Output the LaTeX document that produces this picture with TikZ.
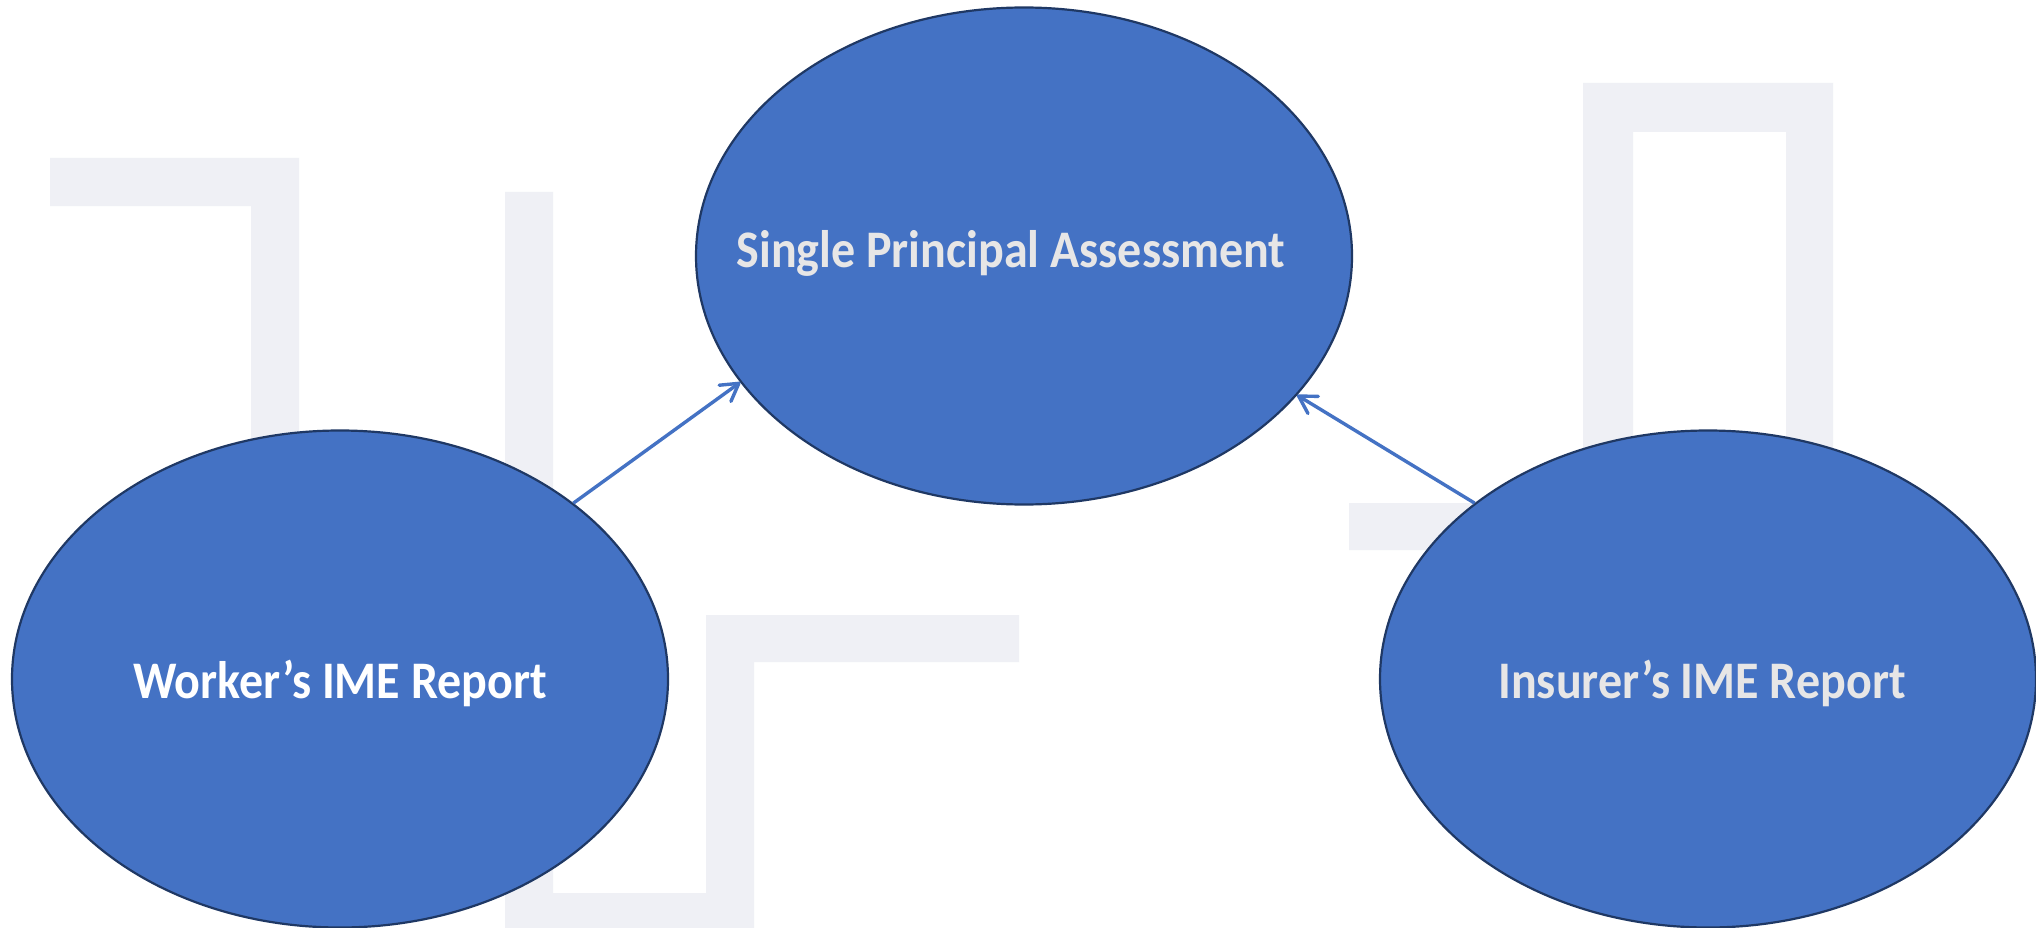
\documentclass[tikz,border=0pt]{standalone}
\usepackage{fontspec}
\setmainfont{Carlito}
\usetikzlibrary{shapes.geometric,arrows.meta}

\definecolor{accent}{HTML}{4472C4}
\definecolor{rim}{HTML}{1F3864}
\definecolor{ghost}{HTML}{EFF0F5}
\definecolor{paletext}{HTML}{E7E6E6}

\newcommand{\tallcaption}[1]{\scalebox{1}[1.1]{#1}}

\tikzset{
  bubble/.style={ellipse, fill=accent, draw=rim, line width=2.2pt,
    minimum width=656pt, minimum height=497pt, inner sep=0pt},
  lbl/.style={font=\bfseries\fontsize{48}{56}\selectfont, inner sep=0pt, anchor=base},
  conn/.style={draw=accent, line width=3.4pt,
    -{Straight Barb[length=17pt,width=20pt,round]}},
  backdrop/.style={fill=ghost, draw=none}
}

\begin{document}
\begin{tikzpicture}[x=1pt,y=-1pt]
  \useasboundingbox (0,0) rectangle (2036,928);
  \clip (0,0) rectangle (2036,928);
  \fill[white] (0,0) rectangle (2036,928);

  % pale background strokes
  \path[backdrop] (50,158) -- (299,158) -- (299,600) -- (251,600) -- (251,206) -- (50,206) -- cycle;
  \path[backdrop] (505,192) -- (553,192) -- (553,893) -- (706,893) -- (706,615) -- (1019,615)
    -- (1019,662) -- (754,662) -- (754,945) -- (505,945) -- cycle;
  \path[backdrop] (1583,83) -- (1833,83) -- (1833,560) -- (1786,560) -- (1786,132) -- (1633,132)
    -- (1633,550) -- (1349,550) -- (1349,503) -- (1583,503) -- cycle;

  % the three bubbles
  \node[bubble] (spa) at (1024,256) {};
  \node[bubble] (wrk) at (340,679) {};
  \node[bubble] (ins) at (1708,679) {};

  % connectors
  \draw[conn] (wrk.37.2) -- (spa.204.6);
  \draw[conn] (ins.143.7) -- (spa.333.8);

  % captions
  \node[lbl, text=paletext] (spatext) at (1011,267) {\tallcaption{Single Principal Assessment}};
  \node[lbl, text=white] (wrktext) at (340,698) {\tallcaption{Worker’s IME Report}};
  \node[lbl, text=paletext] (instext) at (1702,698) {\tallcaption{Insurer’s IME Report}};
\end{tikzpicture}
\end{document}
